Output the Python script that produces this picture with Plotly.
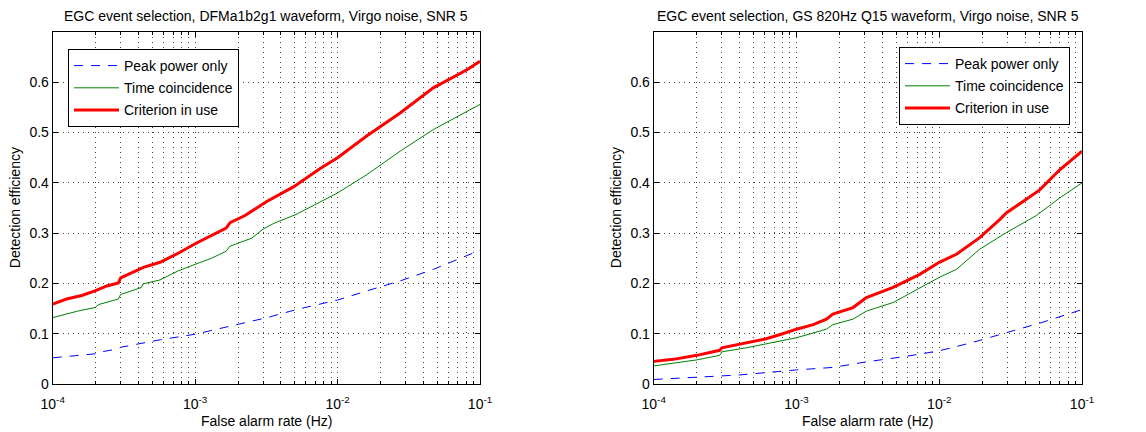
import plotly.graph_objects as go

# ---- data: detection efficiency vs false alarm rate ----
# DFMa1b2g1 waveform
dfm_peak_far = [1e-4, 1.98e-4, 2.2e-4, 2.9e-4, 3.0e-4, 5.7e-4, 1e-3, 1.8e-3, 3.2e-3,
                5.3e-3, 1e-2, 1.6e-2, 2.75e-2, 4.7e-2, 1e-1]
dfm_peak_eff = [0.052, 0.060, 0.064, 0.070, 0.073, 0.088, 0.099, 0.115, 0.132,
                0.149, 0.167, 0.185, 0.205, 0.228, 0.266]

dfm_time_far = [1e-4, 1.25e-4, 1.5e-4, 1.98e-4, 2.1e-4, 2.89e-4, 3.0e-4, 4.2e-4, 4.3e-4,
                5.67e-4, 7e-4, 7.6e-4, 1e-3, 1.3e-3, 1.65e-3, 1.75e-3, 2.5e-3, 3.0e-3,
                3.6e-3, 5.1e-3, 1e-2, 1.6e-2, 2.75e-2, 4.7e-2, 1e-1]
dfm_time_eff = [0.132, 0.140, 0.145, 0.152, 0.158, 0.169, 0.178, 0.192, 0.199,
                0.207, 0.220, 0.225, 0.238, 0.250, 0.264, 0.274, 0.290, 0.308,
                0.320, 0.337, 0.380, 0.416, 0.463, 0.506, 0.556]

dfm_used_far = [1e-4, 1.25e-4, 1.6e-4, 1.98e-4, 2.4e-4, 2.89e-4, 3.0e-4, 3.5e-4, 4.33e-4,
                5.67e-4, 6.5e-4, 7.83e-4, 1e-3, 1.2e-3, 1.42e-3, 1.65e-3, 1.76e-3, 2.24e-3,
                3.18e-3, 4.9e-3, 7.5e-3, 1e-2, 1.6e-2, 2.75e-2, 4.7e-2, 8.1e-2, 1e-1]
dfm_used_eff = [0.159, 0.169, 0.176, 0.185, 0.195, 0.201, 0.211, 0.220, 0.232,
                0.242, 0.250, 0.262, 0.279, 0.290, 0.301, 0.310, 0.321, 0.335,
                0.363, 0.392, 0.428, 0.450, 0.493, 0.539, 0.589, 0.625, 0.642]

# GS 820Hz Q15 waveform
gs_peak_far = [1e-4, 2.01e-4, 4e-4, 1e-3, 1.8e-3, 3.09e-3, 5.89e-3, 1e-2, 1.73e-2,
               2.95e-2, 5.06e-2, 1e-1]
gs_peak_eff = [0.009, 0.013, 0.018, 0.028, 0.033, 0.044, 0.055, 0.066, 0.083,
               0.102, 0.121, 0.148]

gs_time_far = [1e-4, 2.01e-4, 2.9e-4, 3.0e-4, 4.46e-4, 1e-3, 1.62e-3, 1.8e-3, 2.49e-3,
               3.09e-3, 4.75e-3, 5.89e-3, 1e-2, 1.32e-2, 1.92e-2, 2.95e-2, 4.79e-2,
               6.98e-2, 1e-1]
gs_time_eff = [0.036, 0.048, 0.057, 0.064, 0.072, 0.092, 0.109, 0.118, 0.129,
               0.145, 0.162, 0.176, 0.212, 0.228, 0.268, 0.301, 0.335,
               0.370, 0.400]

gs_used_far = [1e-4, 1.37e-4, 2.01e-4, 2.9e-4, 3.0e-4, 4e-4, 6.15e-4, 8e-4, 1e-3,
               1.31e-3, 1.62e-3, 1.8e-3, 2.49e-3, 3.09e-3, 4.75e-3, 7.3e-3, 1e-2,
               1.32e-2, 1.92e-2, 2.65e-2, 2.95e-2, 5.06e-2, 6.98e-2, 1e-1]
gs_used_eff = [0.045, 0.049, 0.057, 0.067, 0.072, 0.079, 0.090, 0.100, 0.109,
               0.118, 0.129, 0.139, 0.152, 0.172, 0.192, 0.218, 0.242,
               0.258, 0.291, 0.327, 0.340, 0.386, 0.426, 0.463]

panel_titles = ["EGC event selection, DFMa1b2g1 waveform, Virgo noise, SNR 5",
                "EGC event selection, GS 820Hz Q15 waveform, Virgo noise, SNR 5"]
series_names = ["Peak power only", "Time coincidence", "Criterion in use"]
x_major = [1e-4, 1e-3, 1e-2, 1e-1]
x_major_text = ["10<sup>-4</sup>", "10<sup>-3</sup>", "10<sup>-2</sup>", "10<sup>-1</sup>"]
y_ticks = [0, 0.1, 0.2, 0.3, 0.4, 0.5, 0.6]
y_tick_text = ["0", "0.1", "0.2", "0.3", "0.4", "0.5", "0.6"]

x_minor = [m * 10.0 ** e for e in (-4, -3, -2) for m in range(2, 10)]

FONT = "Liberation Sans, Arial, Helvetica, sans-serif"
W, H = 1146, 432

styles = [dict(color="#0000ff", width=1, dash="9px,8px"),
          dict(color="#008000", width=1),
          dict(color="#ff0000", width=3)]

panels = [
    dict(data=[(dfm_peak_far, dfm_peak_eff), (dfm_time_far, dfm_time_eff), (dfm_used_far, dfm_used_eff)],
         x0=52.7, x1=480.0, legend="legend", lx=68, ly=49),
    dict(data=[(gs_peak_far, gs_peak_eff), (gs_time_far, gs_time_eff), (gs_used_far, gs_used_eff)],
         x0=653.7, x1=1082.0, legend="legend2", lx=899, ly=47),
]

y_top, y_bot = 32.0, 384.0
GRID = "rgba(0,0,0,0.75)"
GRID_DASH = "1px,4px"

fig = go.Figure()
annotations = []
for i, p in enumerate(panels):
    xa = "x" if i == 0 else "x2"
    ya = "y" if i == 0 else "y2"
    for k, ((fx, fy), name, st) in enumerate(zip(p["data"], series_names, styles)):
        fig.add_trace(go.Scatter(x=fx, y=fy, mode="lines", name=name, line=st,
                                 xaxis=xa, yaxis=ya, legend=p["legend"],
                                 legendgroup=f"{i}-{k}"))
    dom_x = [p["x0"] / W, p["x1"] / W]
    dom_y = [1 - y_bot / H, 1 - y_top / H]
    axis_common = dict(showline=True, linecolor="black", linewidth=1, mirror="allticks",
                       ticks="inside", ticklen=5, tickcolor="black", automargin=False,
                       showgrid=True, gridcolor=GRID, griddash=GRID_DASH,
                       gridwidth=1, zeroline=False,
                       tickfont=dict(family=FONT, size=14, color="black"))
    xkey = "xaxis" if i == 0 else "xaxis2"
    ykey = "yaxis" if i == 0 else "yaxis2"
    fig.update_layout({
        xkey: dict(type="log", domain=dom_x, anchor=ya, range=[-4, -1],
                   tickmode="array", tickvals=x_major, ticktext=x_major_text,
                   ticklabelstandoff=7,
                   minor=dict(tickmode="array", tickvals=x_minor, ticks="inside", ticklen=3,
                              tickcolor="black", showgrid=True,
                              gridcolor=GRID, griddash=GRID_DASH, gridwidth=1),
                   **axis_common),
        ykey: dict(domain=dom_y, anchor=xa, range=[0, 0.7],
                   tickmode="array", tickvals=y_ticks, ticktext=y_tick_text,
                   **axis_common),
        p["legend"]: dict(x=p["lx"] / W, y=1 - p["ly"] / H, xanchor="left", yanchor="top",
                          bgcolor="white", bordercolor="black", borderwidth=1,
                          font=dict(family=FONT, size=14, color="black"),
                          tracegroupgap=1, itemwidth=45),
    })
    cx = (p["x0"] + p["x1"]) / 2 / W
    annotations.append(dict(text=panel_titles[i], x=cx, y=1 - 16 / H, xref="paper", yref="paper",
                            showarrow=False, xanchor="center", yanchor="middle",
                            font=dict(family=FONT, size=14, color="black")))
    annotations.append(dict(text="False alarm rate (Hz)", x=cx, y=1 - 421 / H, xref="paper",
                            yref="paper", showarrow=False, xanchor="center", yanchor="middle",
                            font=dict(family=FONT, size=14, color="black")))
    annotations.append(dict(text="Detection efficiency", x=(p["x0"] - 37.5) / W,
                            y=(dom_y[0] + dom_y[1]) / 2, xref="paper", yref="paper",
                            showarrow=False, textangle=-90, xanchor="center", yanchor="middle",
                            font=dict(family=FONT, size=14, color="black")))

fig.update_layout(template="none", width=W, height=H, margin=dict(l=0, r=0, t=0, b=0),
                  paper_bgcolor="white", plot_bgcolor="white", showlegend=True,
                  annotations=annotations)

fig.write_html("out.html")
